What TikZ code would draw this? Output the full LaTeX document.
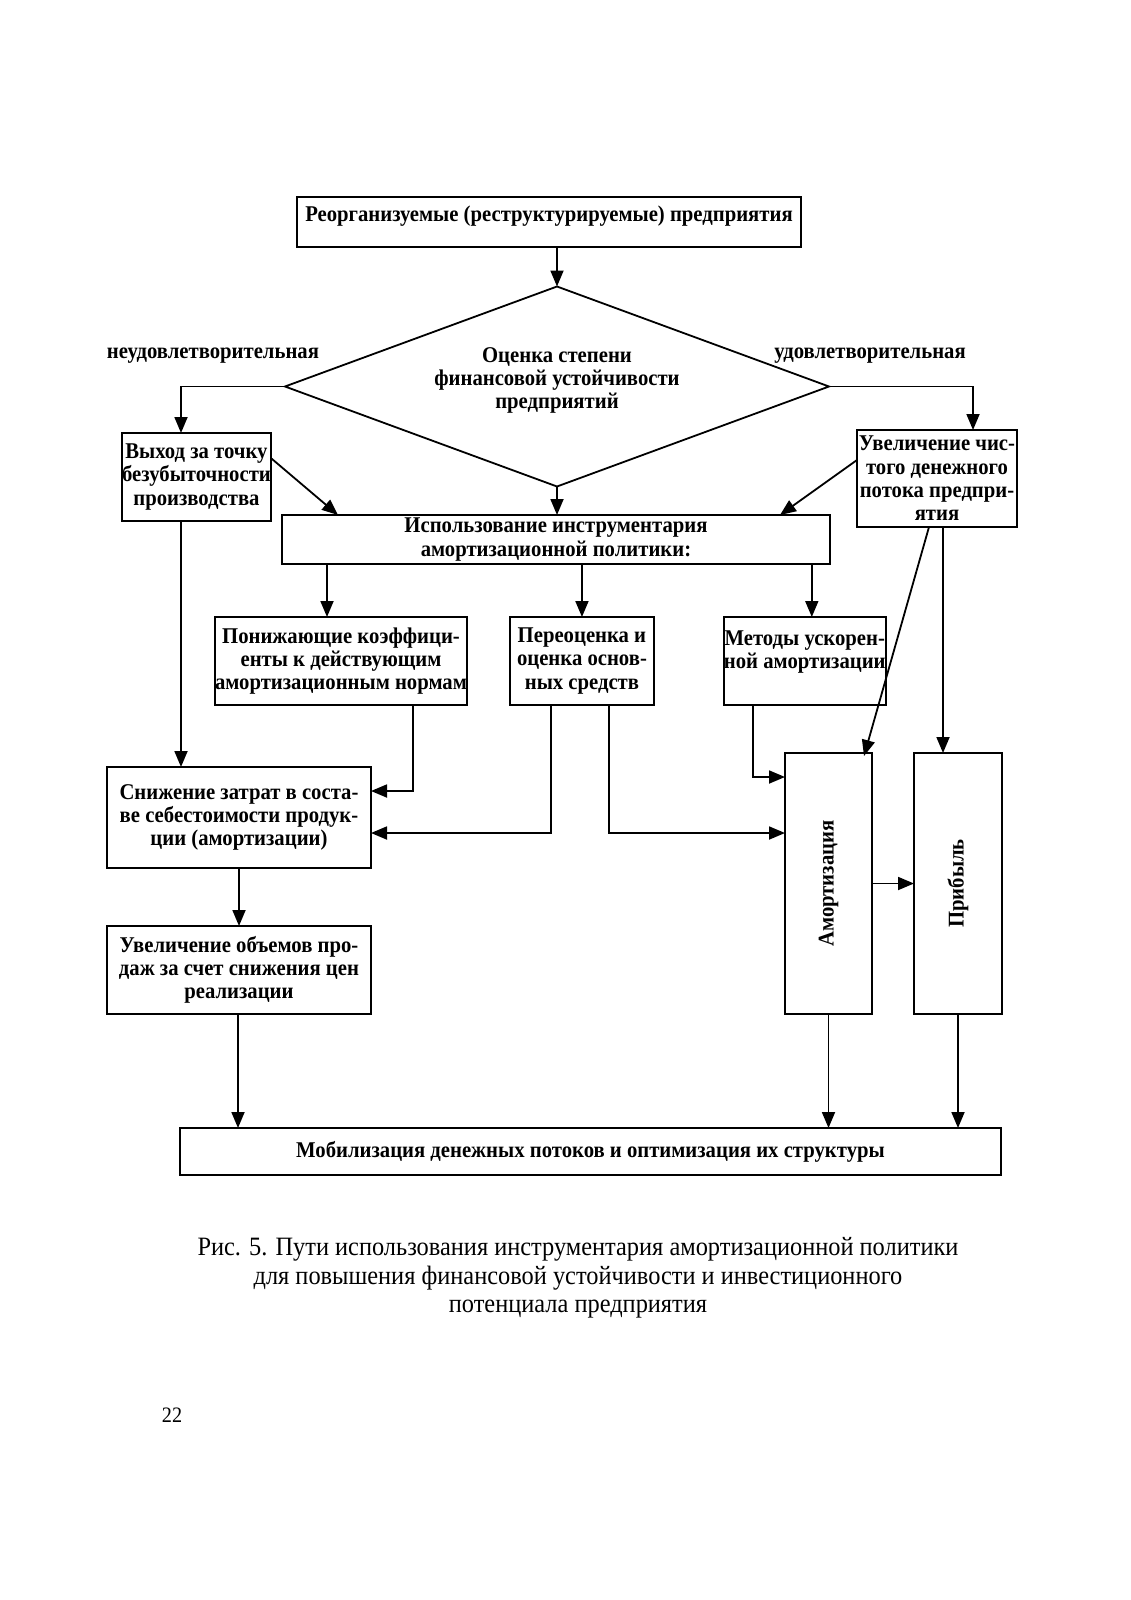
\documentclass[tikz,border=0pt]{standalone}
\usepackage{fontspec}
\newfontfamily\diagfont{Liberation Serif}[FakeStretch=0.92]
\usetikzlibrary{positioning, arrows.meta, shapes.geometric}
\newcommand\boxfnt{\diagfont\bfseries\fontsize{22.5}{23.3}\selectfont}
\newcommand\capfnt{\diagfont\fontsize{26.5}{28.5}\selectfont}

\begin{document}
\begin{tikzpicture}[
        x = 1pt, y = -1pt,
        node distance = 43pt and 43pt,
        box/.style   = {draw, rectangle, align=center, font=\boxfnt, inner sep=0pt, outer sep=0pt, line width=1.8pt},
        decide/.style = {draw, diamond, aspect=2.72, align=center, font=\boxfnt, inner sep=0pt, outer sep=0pt, line width=1.8pt},
        lbl/.style   = {font=\boxfnt},
        arrow/.style = {-{Triangle[length=16pt, width=13pt]}, line width=1.8pt},
    ]
        \useasboundingbox (0,0) rectangle (1131,1600);

        \node[box, minimum width=504pt, minimum height=50pt] (reorg) at (549,222) {Реорганизуемые (реструктурируемые) предприятия\\[-6pt] \mbox{}};
        \node[decide, minimum width=544pt, minimum height=200pt] (ocenka) at (557,386.5) {Оценка степени\\финансовой устойчивости\\предприятий\\[-6pt] \mbox{}};

        \node[lbl] (neud) at (213,356) {неудовлетворительная};
        \node[lbl] (ud) at (870,356) {удовлетворительная};

        \node[box, minimum width=147pt, minimum height=88pt] (vyhod) at (196.5,477) {Выход за точку\\безубыточности\\производства};
        \node[box, minimum width=160pt, minimum height=97pt] (uvelich) at (937,478.5) {Увеличение чис-\\того денежного\\потока предпри-\\ятия};

        \node[box, minimum width=548pt, minimum height=49pt] (ispolz) at (556,539.5) {Использование инструментария\\амортизационной политики:};

        \node[box, minimum width=232pt, minimum height=88pt] (ponizh) at (341,661) {Понижающие коэффици-\\енты к действующим\\амортизационным нормам};
        \node[box, minimum width=144pt, minimum height=88pt, right=of ponizh] (pereots) {Переоценка и\\оценка основ-\\ных средств};
        \node[box, minimum width=158pt, minimum height=88pt, right=70pt of pereots] (metody) {Методы ускорен-\\ной амортизации\\ \mbox{}};

        \node[box, minimum width=264pt, minimum height=101pt] (snizh) at (239,817.5) {Снижение затрат в соста-\\ве себестоимости продук-\\ции (амортизации)};
        \node[box, minimum width=264pt, minimum height=88pt, below=58pt of snizh] (uvelob) {Увеличение объемов про-\\даж за счет снижения цен\\реализации};

        \node[box, minimum width=87pt, minimum height=261pt] (amort) at (828.5,883.5) {\rotatebox{90}{Амортизация}};
        \node[box, minimum width=88pt, minimum height=261pt, right=42pt of amort] (pribyl) {\rotatebox{90}{Прибыль}};

        \node[box, minimum width=821pt, minimum height=47pt] (mobil) at (590.5,1151.5) {Мобилизация денежных потоков и оптимизация их структуры};

        \node[font=\capfnt, align=center] (caption) at (578,1278) {Рис. 5. Пути использования инструментария амортизационной политики\\для повышения финансовой устойчивости и инвестиционного\\потенциала предприятия};
        \node[font=\diagfont\fontsize{22}{24}\selectfont] (page) at (172,1415) {22};

        \draw[arrow] (ocenka.north |- reorg.south) -- (ocenka.north);
        \draw[arrow] (ocenka.west) -| ([xshift=-15.5pt]vyhod.north);
        \draw[arrow] (ocenka.east) -| ([xshift=36pt]uvelich.north);
        \draw[arrow] (ocenka.south) -- (ocenka.south |- ispolz.north);
        \draw[arrow] ([yshift=19pt]vyhod.east) -- ([xshift=56pt]ispolz.north west);
        \draw[arrow] ([yshift=18.5pt]uvelich.west) -- ([xshift=-50pt]ispolz.north east);

        \draw[arrow] ([xshift=-14pt]ponizh.north |- ispolz.south) -- ([xshift=-14pt]ponizh.north);
        \draw[arrow] (pereots.north |- ispolz.south) -- (pereots.north);
        \draw[arrow] ([xshift=7pt]metody.north |- ispolz.south) -- ([xshift=7pt]metody.north);

        \draw[arrow] ([xshift=-15.5pt]vyhod.south) -- ([xshift=-15.5pt]vyhod.south |- snizh.north);
        \draw[arrow] ([xshift=72pt]ponizh.south) |- ([yshift=26.5pt]snizh.east);
        \draw[arrow] ([xshift=-31pt]pereots.south) |- ([yshift=-15.5pt]snizh.east);
        \draw[arrow] ([xshift=27pt]pereots.south) |- ([yshift=50.5pt]amort.west);
        \draw[arrow] ([xshift=-52pt]metody.south) |- ([yshift=106.5pt]amort.west);

        \draw[arrow] ([xshift=-8pt]uvelich.south) -- ([xshift=-8pt, yshift=-3pt]amort.north east);
        \draw[arrow] ([xshift=6pt]uvelich.south) -- ([xshift=6pt]uvelich.south |- pribyl.north);
        \draw[arrow] (amort.east) -- (amort.east -| pribyl.west);

        \draw[arrow] (snizh.south) -- (uvelob.north);
        \draw[arrow] ([xshift=-1pt]uvelob.south) -- ([xshift=-1pt]uvelob.south |- mobil.north);
        \draw[arrow] (amort.south) -- (amort.south |- mobil.north);
        \draw[arrow] (pribyl.south) -- (pribyl.south |- mobil.north);
    \end{tikzpicture}
\end{document}
